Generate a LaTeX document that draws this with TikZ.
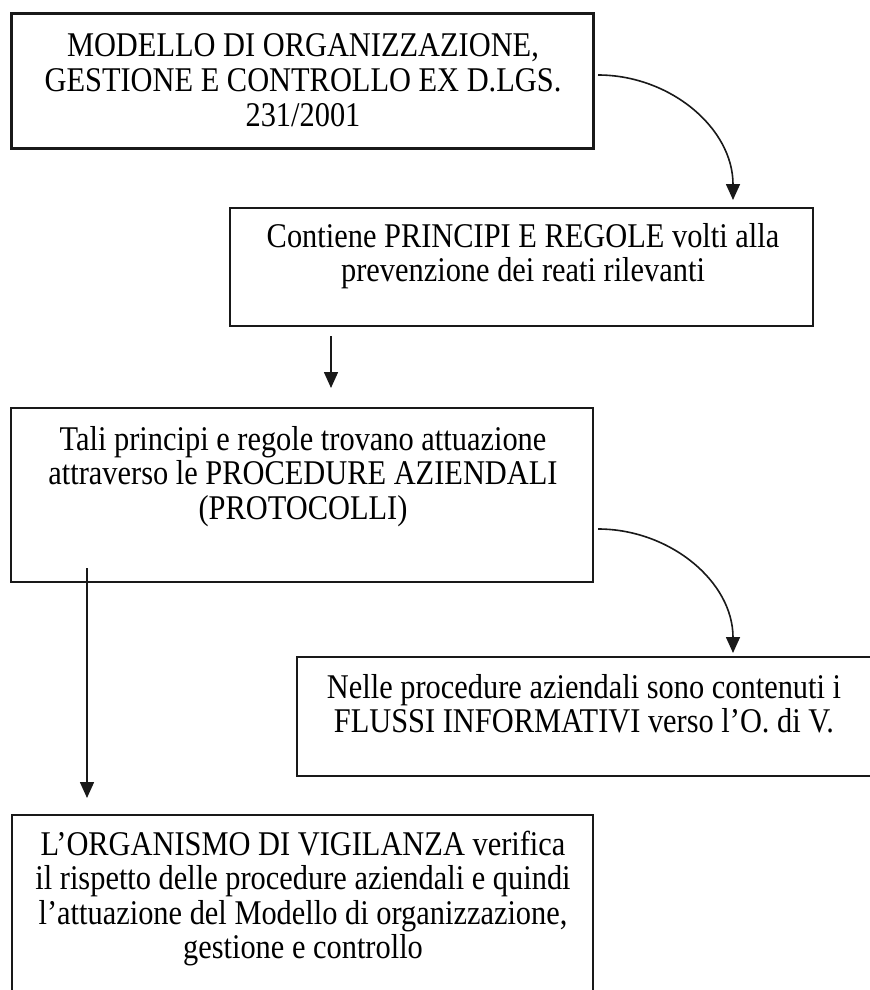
\documentclass[tikz,border=0pt]{standalone}
\usepackage{fontspec}
\setmainfont{Liberation Serif}
\usetikzlibrary{arrows.meta,calc}
\newcommand{\vstretchtxt}[1]{\scalebox{1}[1.14]{#1}}
\newcommand{\boxlines}[1]{\vstretchtxt{\begin{tabular}[t]{@{}c@{}}#1\end{tabular}}}
\begin{document}
\begin{tikzpicture}[x=0.5pt,y=-0.5pt,
  frame/.style={draw=black!90, line width=1.25pt, rectangle, inner sep=0pt, outer sep=0pt, anchor=north west},
  txt/.style={anchor=base, inner sep=0pt, outer sep=0pt, font=\fontsize{15.2}{15.2}\selectfont},
  arr/.style={draw=black!90, line width=0.8pt, -{Triangle[length=8pt,width=7pt]}}]
\useasboundingbox (0,0) rectangle (870,990);
\clip (0,0) rectangle (870,990);
\fill[white] (0,0) rectangle (870,990);

% boxes
\node[frame, line width=1.5pt, minimum width=291pt, minimum height=67pt] (b1) at (11,14) {};
\node[frame, minimum width=291.5pt, minimum height=59pt] (b2) at (230,208) {};
\node[frame, minimum width=291pt, minimum height=87pt] (b3) at (11,408) {};
\node[frame, minimum width=287pt, minimum height=59.5pt] (b4) at (297,657) {};
\node[frame, minimum width=290.5pt, minimum height=95pt] (b5) at (12,815) {};

% texts
\node[txt] (t1) at (303,57) {\boxlines{MODELLO DI ORGANIZZAZIONE,\\GESTIONE E CONTROLLO EX D.LGS.\\231/2001}};
\node[txt] (t2) at (523,247) {\boxlines{Contiene PRINCIPI E REGOLE volti alla\\prevenzione dei reati rilevanti}};
\node[txt] (t3) at (303,450) {\boxlines{Tali principi e regole trovano attuazione\\attraverso le PROCEDURE AZIENDALI\\(PROTOCOLLI)}};
\node[txt] (t4) at (584,698) {\boxlines{Nelle procedure aziendali sono contenuti i\\FLUSSI INFORMATIVI verso l’O. di V.}};
\node[txt] (t5) at (303,855) {\boxlines{L’ORGANISMO DI VIGILANZA verifica\\il rispetto delle procedure aziendali e quindi\\l’attuazione del Modello di organizzazione,\\gestione e controllo}};

% connectors
\coordinate (a1s) at ($(b1.north east)+(5,61)$);
\coordinate (a1e) at ($(b2.north east)+(-80,-8)$);
\draw[arr] (a1s) to[out=0,in=90] (a1e);

\coordinate (a2s) at ($(b2.south west)+(101,10)$);
\coordinate (a2e) at ($(b3.north west)+(320,-20)$);
\draw[arr] (a2s) -- (a2e);

\coordinate (a3s) at ($(b3.north east)+(5,121)$);
\coordinate (a3e) at ($(b4.north west)+(436,-4)$);
\draw[arr] (a3s) to[out=0,in=90] (a3e);

\coordinate (a4s) at ($(b3.south west)+(76,-14)$);
\coordinate (a4e) at ($(b5.north west)+(75,-17)$);
\draw[arr] (a4s) -- (a4e);
\end{tikzpicture}
\end{document}
